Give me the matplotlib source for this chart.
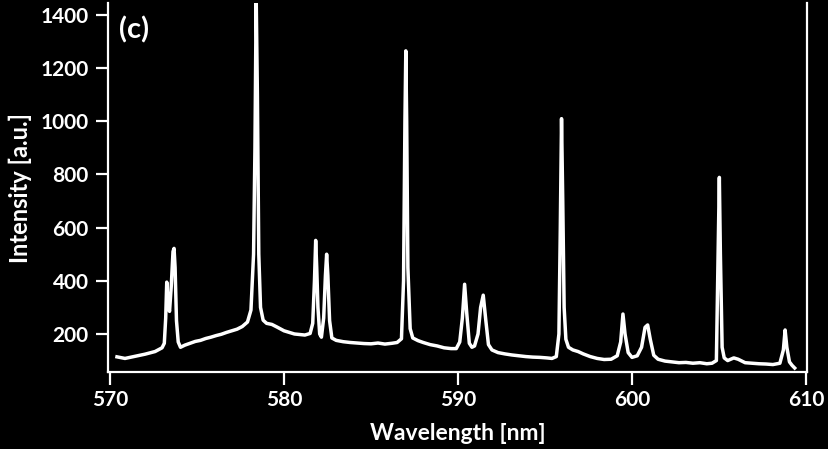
import numpy as np
import matplotlib
matplotlib.use('Agg')
import matplotlib.pyplot as plt

# spectrum (wavelength in nm, intensity in a.u.)
wavelength = [
    570.40, 570.86, 571.44, 572.01, 572.59, 572.99,
    573.12, 573.20, 573.26, 573.33, 573.42, 573.52, 573.62, 573.68, 573.74,
    573.82, 573.92, 574.05,
    574.30, 574.60, 574.90, 575.20, 575.50, 575.80, 576.10, 576.40, 576.70,
    577.00, 577.30, 577.60, 577.90, 578.10, 578.25,
    578.33, 578.40, 578.47, 578.55, 578.65, 578.80, 579.00, 579.30, 579.60,
    580.00, 580.30, 580.60, 580.90, 581.20, 581.50,
    581.65, 581.75, 581.82, 581.88, 581.95, 582.05, 582.15, 582.28, 582.38,
    582.45, 582.52, 582.62, 582.75,
    583.00, 583.40, 583.80, 584.20, 584.60, 585.00, 585.40, 585.80, 586.20,
    586.50, 586.75,
    586.87, 586.95, 587.00, 587.05, 587.12, 587.25, 587.40, 587.70,
    588.00, 588.40, 588.80, 589.20, 589.60, 589.90,
    590.10, 590.25, 590.38, 590.50, 590.65, 590.80, 590.95, 591.15, 591.30,
    591.45, 591.60, 591.75, 591.95,
    592.30, 592.70, 593.10, 593.50, 593.90, 594.30, 594.70, 595.10, 595.40,
    595.65, 595.80, 595.88, 595.95, 596.02, 596.10, 596.20, 596.35,
    596.60, 596.90, 597.20, 597.60, 598.00, 598.40, 598.80,
    599.15, 599.35, 599.48, 599.60, 599.78, 600.00, 600.30, 600.55, 600.75,
    600.90, 601.05, 601.25,
    601.50, 601.90, 602.30, 602.70, 603.10, 603.50, 603.90, 604.30, 604.60,
    604.85, 604.95, 605.02, 605.08, 605.18, 605.30, 605.50, 605.85, 606.10,
    606.50, 606.90, 607.30, 607.70, 608.10, 608.50,
    608.70, 608.80, 608.90, 609.05, 609.20, 609.35,
]
intensity = [
    114, 108, 116, 124, 134, 148,
    165, 260, 395, 320, 285, 380, 510, 522, 450,
    250, 170, 150,
    158, 165, 172, 176, 183, 188, 194, 199, 206,
    212, 218, 228, 245, 290, 500,
    900, 1470, 1100, 500, 300, 252, 240, 236, 226,
    212, 206, 200, 198, 196, 202,
    240, 400, 552, 450, 300, 200, 188, 260, 420,
    500, 420, 250, 185,
    176, 171, 168, 166, 164, 163, 166, 162, 165,
    168, 182,
    400, 1000, 1265, 1000, 450, 220, 185, 175,
    168, 160, 155, 148, 145, 145,
    170, 260, 387, 280, 165, 150, 155, 200, 300,
    346, 250, 160, 140,
    130, 125, 121, 118, 115, 113, 112, 110, 108,
    115, 200, 600, 1010, 700, 300, 180, 150,
    140, 134, 125, 115, 108, 104, 105,
    118, 170, 275, 200, 130, 112, 118, 150, 225,
    234, 180, 120,
    105, 98, 95, 92, 93, 90, 92, 88, 90,
    100, 500, 789, 500, 150, 110, 100, 110, 105,
    92, 90, 88, 87, 85, 90,
    140, 215, 150, 95, 82, 72,
]

x_ticks = [570, 580, 590, 600, 610]
y_ticks = [200, 400, 600, 800, 1000, 1200, 1400]

plt.rcParams['font.family'] = ['Lato', 'DejaVu Sans']
plt.rcParams['font.weight'] = 'bold'

fig = plt.figure(figsize=(8.29, 4.49), dpi=100, facecolor='black')
ax = fig.add_axes([0.1303, 0.1715, 0.8432, 0.8218])
ax.set_facecolor('black')

ax.plot(wavelength, intensity, color='white', lw=2.5, solid_joinstyle='round')

ax.set_xlim(569.885, 610.06)
ax.set_ylim(57, 1445)
ax.set_xticks(x_ticks)
ax.set_yticks(y_ticks)

for side in ['left', 'right', 'bottom']:
    ax.spines[side].set_color('white')
    ax.spines[side].set_linewidth(1.6)
ax.spines['top'].set_visible(False)

ax.tick_params(axis='both', colors='white', width=1.6, length=9,
               direction='out', labelsize=15)
ax.tick_params(axis='y', pad=5)
ax.tick_params(axis='x', pad=4)
for lbl in ax.get_xticklabels() + ax.get_yticklabels():
    lbl.set_fontweight('bold')

ax.set_xlabel('Wavelength [nm]', color='white', fontsize=16.5,
              fontweight='bold', labelpad=9)
ax.set_ylabel('Intensity [a.u.]', color='white', fontsize=17,
              fontweight='bold', labelpad=6)
ax.text(0.016, 0.963, '(c)', transform=ax.transAxes, color='white',
        fontsize=21, fontweight='bold', va='top', ha='left')

fig.savefig('out.png', dpi=100, facecolor='black')
